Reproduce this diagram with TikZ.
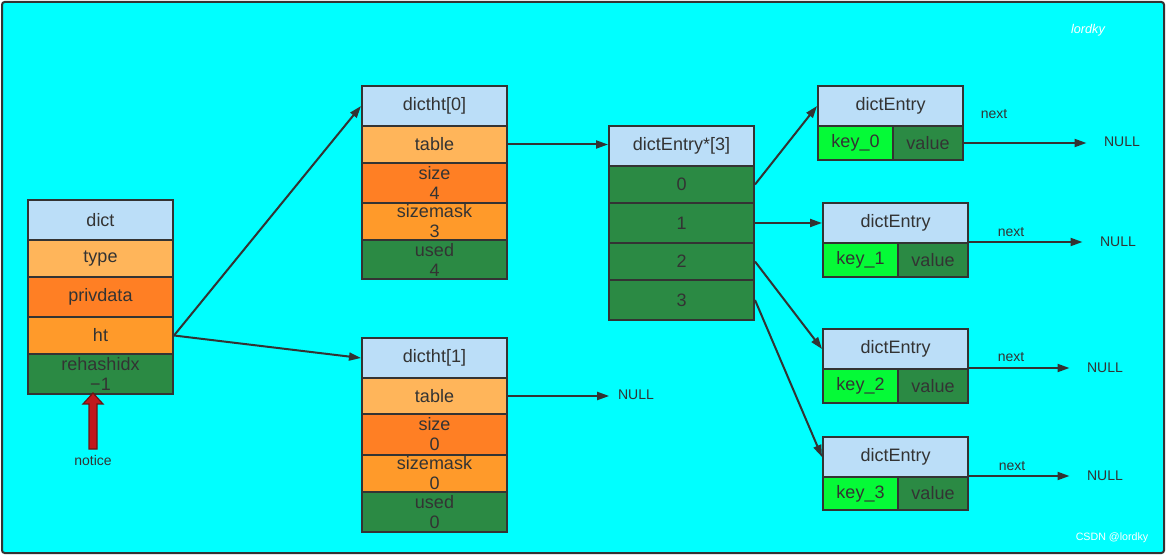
\documentclass[tikz,border=0pt]{standalone}
\usepackage{fontspec}
\setmainfont{Liberation Sans}
\usetikzlibrary{arrows.meta}

\definecolor{hdrblue}{RGB}{187,222,248}
\definecolor{lightorange}{RGB}{255,181,90}
\definecolor{darkorange}{RGB}{255,127,36}
\definecolor{midorange}{RGB}{255,154,42}
\definecolor{darkgreen}{RGB}{43,138,68}
\definecolor{keygreen}{RGB}{5,250,55}
\definecolor{bgcyan}{RGB}{0,255,255}
\definecolor{edge}{RGB}{51,51,51}
\definecolor{noticered}{RGB}{192,24,28}
\definecolor{noticeedge}{RGB}{105,20,20}

\begin{document}
\begin{tikzpicture}[x=0.75pt, y=-0.75pt,
	cell/.style = {draw=edge, line width=1.5pt, anchor=north west, inner sep=0pt, minimum width=108.75pt, text=edge, align=center, font=\fontsize{13.5}{15}\selectfont},
	keycell/.style = {cell, fill=keygreen, minimum width=56.25pt, minimum height=25.5pt},
	valcell/.style = {cell, fill=darkgreen, minimum width=52.5pt, minimum height=25.5pt},
	link/.style = {draw=edge, line width=1.5pt, -{Triangle[length=9pt, width=6pt]}},
	small/.style = {text=edge, font=\fontsize{10.5}{12}\selectfont},
	nulltext/.style = {small, inner xsep=13pt}]
	\useasboundingbox (0,0) rectangle (1166,555);
	\filldraw [fill=bgcyan, draw=edge, line width=1.5pt, rounded corners=2pt] (2,2) rectangle (1164,553);

	% dict
	\node [cell, fill=hdrblue, minimum height=30pt] (dict) at (27,199) {dict};
	\node [cell, fill=lightorange, minimum height=27.75pt] (type) at (27,239) {type};
	\node [cell, fill=darkorange, minimum height=30pt] (privdata) at (27,276) {privdata};
	\node [cell, fill=midorange, minimum height=27.75pt] (ht) at (27,316) {ht};
	\node [cell, fill=darkgreen, minimum height=30pt] (rehash) at (27,353) {rehashidx\\−1};
	\filldraw [fill=noticered, draw=noticeedge, line width=0.9pt] (89,449) -- (89,404) -- (83,404) -- (93,393) -- (103,404) -- (97,404) -- (97,449) -- cycle;
	\node [small] (notice) at (93,460) {notice};

	% dictht[0]
	\node [cell, fill=hdrblue, minimum height=30pt] (ht0) at (361,85) {dictht[0]};
	\node [cell, fill=lightorange, minimum height=27.75pt] (table0) at (361,125) {table};
	\node [cell, fill=darkorange, minimum height=30pt] (size0) at (361,162) {size\\4};
	\node [cell, fill=midorange, minimum height=27.75pt] (mask0) at (361,202) {sizemask\\3};
	\node [cell, fill=darkgreen, minimum height=29.25pt] (used0) at (361,239) {used\\4};

	% dictht[1]
	\node [cell, fill=hdrblue, minimum height=30pt] (ht1) at (361,337) {dictht[1]};
	\node [cell, fill=lightorange, minimum height=27pt] (table1) at (361,377) {table};
	\node [cell, fill=darkorange, minimum height=30.75pt] (size1) at (361,413) {size\\0};
	\node [cell, fill=midorange, minimum height=27.75pt] (mask1) at (361,454) {sizemask\\0};
	\node [cell, fill=darkgreen, minimum height=30pt] (used1) at (361,491) {used\\0};
	\node [nulltext, inner xsep=6.5pt] (null1) at (636,395) {NULL};

	% dictEntry*[3]
	\node [cell, fill=hdrblue, minimum height=30pt] (arr) at (608,125) {dictEntry*[3]};
	\node [cell, fill=darkgreen, minimum height=27.75pt] (slot0) at (608,165) {0};
	\node [cell, fill=darkgreen, minimum height=30pt] (slot1) at (608,202) {1};
	\node [cell, fill=darkgreen, minimum height=27.75pt] (slot2) at (608,242) {2};
	\node [cell, fill=darkgreen, minimum height=30pt] (slot3) at (608,279) {3};

	% entries
	\node [cell, fill=hdrblue, minimum height=30pt] (e0) at (817,85) {dictEntry};
	\node [keycell] (k0) at (817,125) {key\_0};
	\node [valcell] (v0) at (892,125) {value};
	\node [small] (next0) at (994,114) {next};
	\node [nulltext] (n0) at (1122,142) {NULL};

	\node [cell, fill=hdrblue, minimum height=30pt] (e1) at (822,202) {dictEntry};
	\node [keycell] (k1) at (822,242) {key\_1};
	\node [valcell] (v1) at (897,242) {value};
	\node [small] (next1) at (1011,232) {next};
	\node [nulltext] (n1) at (1118,242) {NULL};

	\node [cell, fill=hdrblue, minimum height=30pt] (e2) at (822,328) {dictEntry};
	\node [keycell] (k2) at (822,368) {key\_2};
	\node [valcell] (v2) at (897,368) {value};
	\node [small] (next2) at (1011,357) {next};
	\node [nulltext] (n2) at (1105,368) {NULL};

	\node [cell, fill=hdrblue, minimum height=30pt] (e3) at (822,436) {dictEntry};
	\node [keycell, minimum height=24.75pt] (k3) at (822,476) {key\_3};
	\node [valcell, minimum height=24.75pt] (v3) at (897,476) {value};
	\node [small] (next3) at (1012,466) {next};
	\node [nulltext] (n3) at (1105,476) {NULL};

	% pointers
	\draw [link] (ht.east) -- (ht0.west);
	\draw [link] (ht.east) -- (ht1.west);
	\draw [link] (table0.east) -- (table0.east -| arr.west);
	\draw [link] (table1.east) -- (table1.east -| null1.west);
	\draw [link] (slot0.east) -- (e0.west);
	\draw [link] (slot1.east) -- (e1.west);
	\draw [link] (slot2.east) -- (e2.west);
	\draw [link] (slot3.east) -- (e3.west);
	\draw [link] (v0.east) -- (v0.east -| n0.west);
	\draw [link] (v1.north east) -- (v1.north east -| n1.west);
	\draw [link] (v2.north east) -- (v2.north east -| n2.west);
	\draw [link] (v3.north east) -- (v3.north east -| n3.west);

	% watermarks
	\node [text=white, font=\fontsize{9.5}{11}\itshape] (mark) at (1088,30) {lordky};
	\node [text=white, font=\fontsize{8}{10}\selectfont] (csdn) at (1112,538) {CSDN @lordky};
\end{tikzpicture}
\end{document}
